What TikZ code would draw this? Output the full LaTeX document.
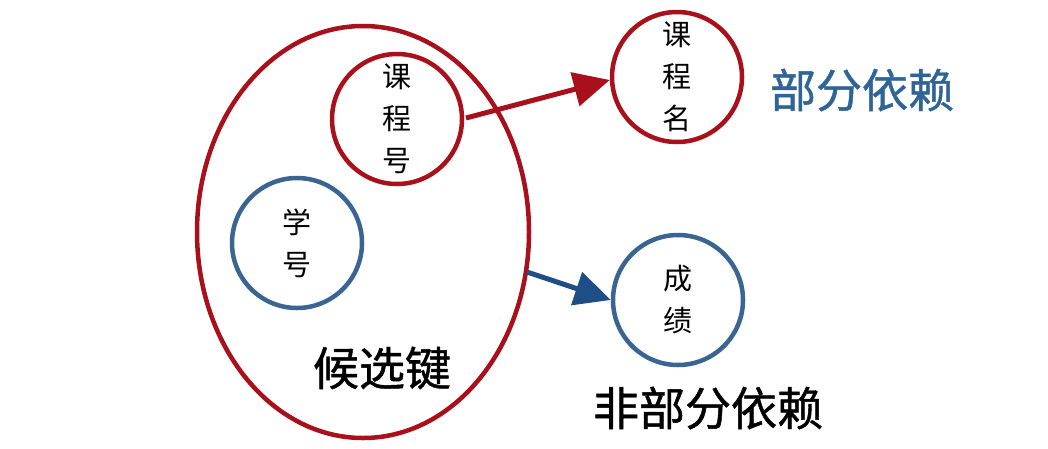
\documentclass[tikz,border=0pt]{standalone}
\usepackage{fontspec}
\newfontfamily\cjk{Noto Sans CJK SC}
\newfontfamily\cjkb[FakeBold=1]{Noto Sans CJK SC}
\usetikzlibrary{arrows.meta,shapes.geometric}
\definecolor{dred}{HTML}{A8101C}
\definecolor{dblue}{HTML}{3A6590}
\definecolor{ablue}{HTML}{1F4E86}
\definecolor{tblue}{HTML}{2F6596}
\tikzset{
  circ/.style={circle,draw,line width=4.5pt,minimum size=130pt,inner sep=0pt,align=center,font=\cjk\fontsize{29}{42}\selectfont},
  redc/.style={circ,draw=dred},
  bluec/.style={circ,draw=dblue},
  arr/.style={line width=5pt,-{Triangle[length=36pt,width=34pt]}},
  lbl/.style={font=\cjkb\fontsize{46}{50}\selectfont,inner sep=0pt}
}
\begin{document}
\begin{tikzpicture}[x=1pt,y=-1pt]
\useasboundingbox (0,0) rectangle (1048,448);
\node[draw=dred,line width=4.5pt,ellipse,minimum width=332pt,minimum height=412pt,inner sep=0pt] (key) at (363,232) {};
\node[redc] (kch) at (397,119) {课\\程\\号};
\node[bluec] (xh) at (297,243) {学\\号};
\node[redc] (kcm) at (677,77) {课\\程\\名};
\node[bluec] (cj) at (678,300) {成\\绩};
\coordinate (rs) at (466,118);
\coordinate (bs) at (527,272);
\draw[arr,dred] (rs) -- (kcm.west |- 0,80);
\draw[arr,ablue] (bs) -- (cj.west);
\node[lbl,text=tblue] (pd) at (862,90) {部分依赖};
\node[lbl] (npd) at (708,408) {非部分依赖};
\node[lbl] (hxj) at (382,368) {候选键};
\end{tikzpicture}
\end{document}
